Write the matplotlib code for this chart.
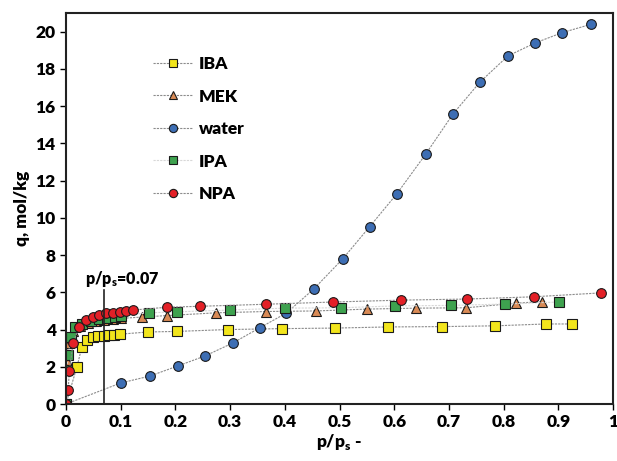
import matplotlib
matplotlib.use("Agg")
import matplotlib.pyplot as plt

plt.rcParams['font.family'] = ['Lato', 'DejaVu Sans']
plt.rcParams['font.weight'] = 'bold'

# relative pressure p/ps and loading q (mol/kg)
iba_x = [0.0, 0.020, 0.029, 0.039, 0.049, 0.059, 0.069, 0.078, 0.088, 0.098,
         0.150, 0.202, 0.296, 0.394, 0.492, 0.588, 0.688, 0.784, 0.877, 0.925]
iba_q = [0.0, 2.0, 3.07, 3.43, 3.6, 3.65, 3.67, 3.7, 3.72, 3.75,
         3.87, 3.9, 4.0, 4.05, 4.08, 4.14, 4.16, 4.2, 4.3, 4.3]

mek_x = [0.0, 0.001, 0.005, 0.012, 0.025, 0.04, 0.055, 0.07, 0.085, 0.1,
         0.138, 0.184, 0.275, 0.366, 0.457, 0.551, 0.64, 0.732, 0.823, 0.87]
mek_q = [0.0, 2.3, 3.3, 3.9, 4.2, 4.35, 4.45, 4.5, 4.55, 4.6,
         4.67, 4.75, 4.9, 4.97, 5.0, 5.1, 5.15, 5.17, 5.42, 5.5]

water_x = [0.0, 0.1, 0.153, 0.204, 0.254, 0.305, 0.354, 0.403, 0.453, 0.506,
           0.555, 0.605, 0.658, 0.708, 0.757, 0.808, 0.858, 0.907, 0.96]
water_q = [0.0, 1.13, 1.5, 2.04, 2.58, 3.28, 4.09, 4.89, 6.18, 7.8,
           9.52, 11.3, 13.44, 15.6, 17.3, 18.7, 19.4, 19.95, 20.4]

ipa_x = [0.0, 0.001, 0.004, 0.009, 0.016, 0.03, 0.045, 0.06, 0.075, 0.09, 0.1,
         0.152, 0.202, 0.3, 0.4, 0.502, 0.602, 0.704, 0.803, 0.901]
ipa_q = [0.0, 1.83, 2.63, 3.6, 4.14, 4.3, 4.45, 4.55, 4.6, 4.68, 4.75,
         4.9, 4.95, 5.05, 5.15, 5.17, 5.27, 5.3, 5.37, 5.48]

npa_x = [0.0, 0.004, 0.006, 0.013, 0.024, 0.036, 0.049, 0.06, 0.074, 0.086, 0.098,
         0.11, 0.123, 0.185, 0.245, 0.366, 0.489, 0.612, 0.734, 0.855, 0.978]
npa_q = [0.0, 0.75, 1.77, 3.28, 4.14, 4.5, 4.67, 4.8, 4.9, 4.9, 4.95,
         5.0, 5.05, 5.2, 5.25, 5.36, 5.48, 5.58, 5.64, 5.76, 5.97]

x_line = 0.07

fig = plt.figure(figsize=(6.17, 4.61), dpi=100)
ax = fig.add_axes([0.107, 0.1236, 0.8865, 0.848])

line_kw = dict(color="#8c8c8c", linewidth=0.8, linestyle=(0, (2, 1)),
               markeredgecolor="#1a1a1a", markeredgewidth=0.8, markersize=7)

ax.plot(iba_x, iba_q, marker="s", markerfacecolor="#f2e51c", label="IBA", **line_kw)
ax.plot(mek_x, mek_q, marker="^", markerfacecolor="#d98a55", label="MEK", **line_kw)
ax.plot(water_x, water_q, marker="o", markerfacecolor="#3d6eb4", label="water", **line_kw)
ax.plot(ipa_x, ipa_q, marker="s", markerfacecolor="#3ea24f", label="IPA",
        **{**line_kw, "color": "#d8d8d8"})
ax.plot(npa_x, npa_q, marker="o", markerfacecolor="#e32027", label="NPA", **line_kw)

ax.plot([x_line, x_line], [0, 6.1], color="#222222", linewidth=1.2)
ax.text(0.035, 6.45, "p/p$_\\mathregular{s}$=0.07", fontsize=11.5, fontweight="heavy")

ax.set_xlim(0, 1)
ax.set_ylim(0, 21)
ax.set_xticks([i / 10 for i in range(11)])
ax.set_xticklabels(["0"] + ["0.%d" % i for i in range(1, 10)] + ["1"])
ax.set_yticks(range(0, 21, 2))
ax.tick_params(direction="out", length=4, width=1, labelsize=12.5)
for lab in ax.get_xticklabels() + ax.get_yticklabels():
    lab.set_fontweight("heavy")
for s in ax.spines.values():
    s.set_linewidth(1.5)
    s.set_color("#222222")

ax.set_xlabel("p/p$_\\mathregular{s}$ -", fontsize=12.5, fontweight="heavy", labelpad=1)
ax.set_ylabel("q, mol/kg", fontsize=12.5, fontweight="heavy", labelpad=4)

leg = ax.legend(loc="upper left", bbox_to_anchor=(0.13, 0.93), frameon=False,
                labelspacing=0.95, handlelength=2.3, handletextpad=0.35,
                prop={"weight": "heavy", "size": 12.5}, markerscale=0.85)

fig.savefig("out.png", dpi=100)
